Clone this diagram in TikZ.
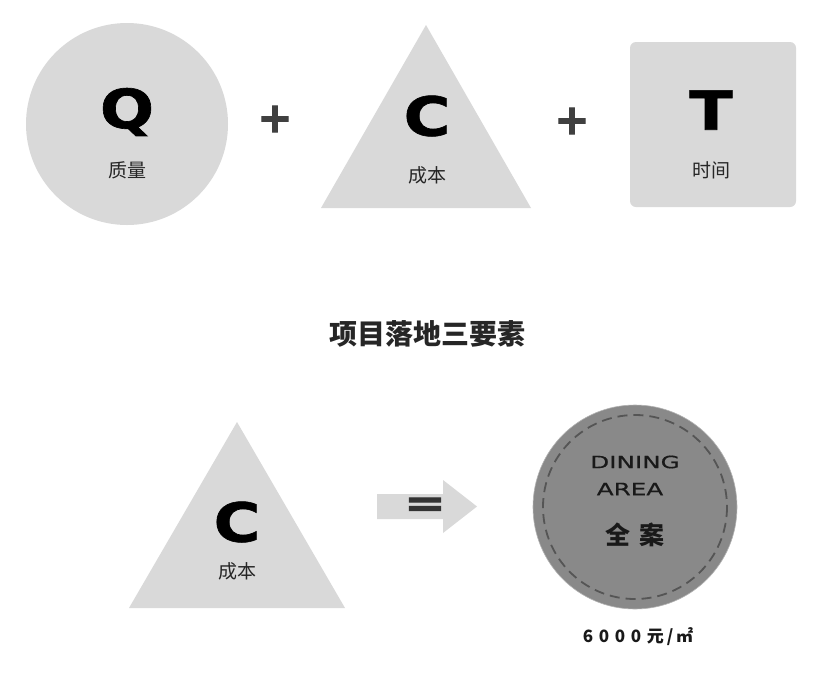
\documentclass[tikz,border=0pt]{standalone}
\usepackage{fontspec}
\setmainfont{DejaVu Sans}
\newfontfamily\cjk{Noto Sans CJK SC}
\newfontfamily\bigletter[FakeStretch=1.18,FakeBold=1.2]{DejaVu Sans Bold}
\newfontfamily\wideletter[FakeStretch=1.45,FakeBold=0.6]{DejaVu Sans}
\newfontfamily\heavysign[FakeBold=2.5]{DejaVu Sans Bold}
\definecolor{shapegray}{HTML}{D9D9D9}
\definecolor{darkfill}{HTML}{898989}
\definecolor{ringgray}{HTML}{555555}
\definecolor{plusgray}{HTML}{404040}
\tikzset{
  letter/.style={font=\bigletter\fontsize{54}{54}\selectfont, text=black, inner sep=0pt},
  caption/.style={font=\cjk\fontsize{19}{19}\selectfont, text=black!85, inner sep=0pt},
  plussign/.style={font=\heavysign\fontsize{42}{42}\selectfont, text=plusgray, inner sep=0pt}
}
\begin{document}
\begin{tikzpicture}[x=1pt,y=-1pt]
\useasboundingbox[fill=white] (0,0) rectangle (830,673);
% top row: quality, cost, time
\fill[shapegray] (127,124) circle (101);
\node[letter] (qletter) at (127,112) {Q};
\node[caption] (qtext) at (127,170) {质量};
\node[plussign] (plusA) at (275,119) {+};
\coordinate (capex) at (426,25);
\fill[shapegray] (capex) -- (531,208) -- (321,208) -- cycle;
\node[letter] (cletter) at (427,116) {C};
\node[caption] (ctext) at (427,175) {成本};
\node[plussign] (plusB) at (572,121) {+};
\fill[shapegray, rounded corners=6] (630,42) rectangle (796,207);
\node[letter] (tletter) at (711,110) {T};
\node[caption] (ttext) at (711,170) {时间};
% title
\node[font=\cjk\bfseries\fontsize{28}{28}\selectfont, text=black!85] (title) at (427,334) {项目落地三要素};
% bottom row: cost = dining area
\fill[shapegray] (237,422) -- (345,608) -- (129,608) -- cycle;
\node[letter] (cletterB) at (237,522) {C};
\node[caption] (ctextB) at (237,571) {成本};
\fill[shapegray] (377,494) -- (443,494) -- (443,480) -- (477,506.5) -- (443,533) -- (443,519) -- (377,519) -- cycle;
\node[font=\heavysign\fontsize{38}{38}\selectfont, text=black!80, inner sep=0pt, xscale=1.3] (equal) at (425,507) {=};
\fill[darkfill, draw=black!30, line width=0.6pt] (635,507) circle (102);
\draw[ringgray, line width=1.8pt, dash pattern=on 10pt off 6pt] (635,507) circle (92);
\node[font=\wideletter\fontsize{17}{17}\selectfont, text=black!90, inner sep=0pt] (dining) at (635,462) {DINING};
\node[font=\wideletter\fontsize{17}{17}\selectfont, text=black!90, inner sep=0pt] (area) at (630,489) {AREA};
\node[font=\cjk\bfseries\fontsize{25}{25}\selectfont, text=black!90, inner sep=0pt] (whole) at (635,535) {全\,\,案};
\node[font=\cjk\bfseries\fontsize{17}{17}\selectfont, text=black!90, inner sep=0pt] (price) at (638,637) {6\,\,0\,\,0\,\,0\,\,元\,/\,㎡};
\end{tikzpicture}
\end{document}
